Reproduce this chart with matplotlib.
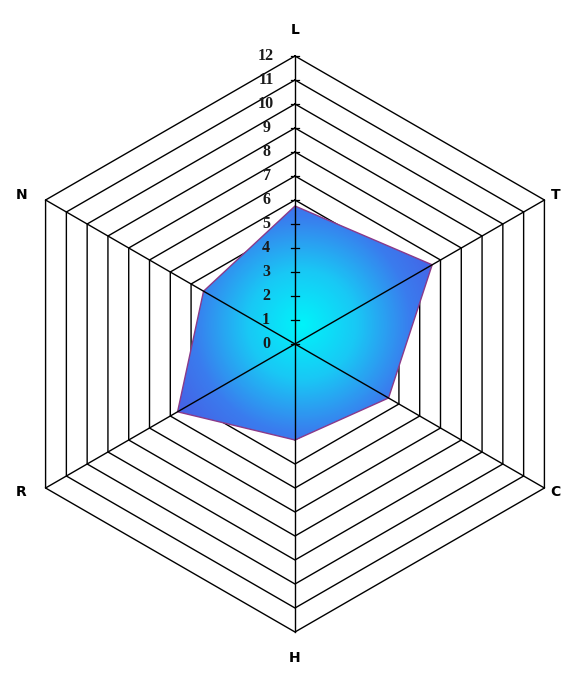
import numpy as np
import matplotlib
matplotlib.use("Agg")
import matplotlib.pyplot as plt
from matplotlib.colors import LinearSegmentedColormap
from matplotlib.patches import Polygon

# data
categories = ["L", "T", "C", "H", "R", "N"]
values = [5.75, 6.6, 4.5, 4.0, 5.65, 4.4]
ring_values = list(range(0, 13))

angles = np.deg2rad([90, 30, -30, -90, -150, 150])
rmax = ring_values[-1]

fig = plt.figure(figsize=(5.63, 6.73), dpi=100)
ax = fig.add_axes([0, 0, 1, 1])
unit = 24.0  # pixels per unit
ax.set_xlim(-295 / unit, (563 - 295) / unit)
ax.set_ylim(-(673 - 344) / unit, 344 / unit)
ax.set_aspect("equal")
ax.axis("off")

# hexagon rings
for r in ring_values[1:]:
    xs = r * np.cos(np.append(angles, angles[0]))
    ys = r * np.sin(np.append(angles, angles[0]))
    ax.plot(xs, ys, color="black", lw=1.0, zorder=1)

# data polygon with radial gradient
px = np.array(values) * np.cos(angles)
py = np.array(values) * np.sin(angles)
poly = Polygon(np.column_stack([px, py]), closed=True, facecolor="none",
               edgecolor="#8a3a8a", lw=1.0, zorder=3)
ax.add_patch(poly)

cmap = LinearSegmentedColormap.from_list("cb", ["#00f4fa", "#19c8f5", "#3a7cee", "#4a58e2"])
gx, gy = np.meshgrid(np.linspace(-8, 8, 400), np.linspace(-8, 8, 400))
d = np.hypot(gx - 0.3, gy - 0.8) / 6.8
img = ax.imshow(d, extent=(-8, 8, -8, 8), origin="lower", cmap=cmap,
                vmin=0, vmax=1, zorder=2, interpolation="bilinear")
img.set_clip_path(poly)

# spokes drawn over fill
for a in angles:
    ax.plot([0, rmax * np.cos(a)], [0, rmax * np.sin(a)], color="black", lw=1.0, zorder=4)

# ticks on the L axis
for r in ring_values:
    ax.plot([-0.18, 0.18], [r, r], color="black", lw=0.9, zorder=4)
    ax.text(-1.2, r, str(r), ha="center", va="center", fontsize=11.5,
            family="Liberation Serif", fontweight="bold", color="#1a1a1a", zorder=5)

# category labels
right_edge = (563 - 295) / unit - 0.1
for cat, a in zip(categories, angles):
    vx = rmax * np.cos(a)
    vy = rmax * np.sin(a)
    if cat == "L":
        x, y, ha = 0, vy + 1.1, "center"
    elif cat == "H":
        x, y, ha = 0, vy - 1.1, "center"
    elif cat == "N":
        x, y, ha = vx - 1.0, vy + 0.2, "center"
    elif cat == "R":
        x, y, ha = vx - 1.0, vy - 0.17, "center"
    elif cat == "T":
        x, y, ha = right_edge, vy + 0.2, "right"
    else:
        x, y, ha = right_edge, vy - 0.17, "right"
    ax.text(x, y, cat, ha=ha, va="center", fontsize=10, fontweight="bold",
            family="DejaVu Sans", zorder=5)

fig.savefig("out.png", dpi=100, facecolor="white")
